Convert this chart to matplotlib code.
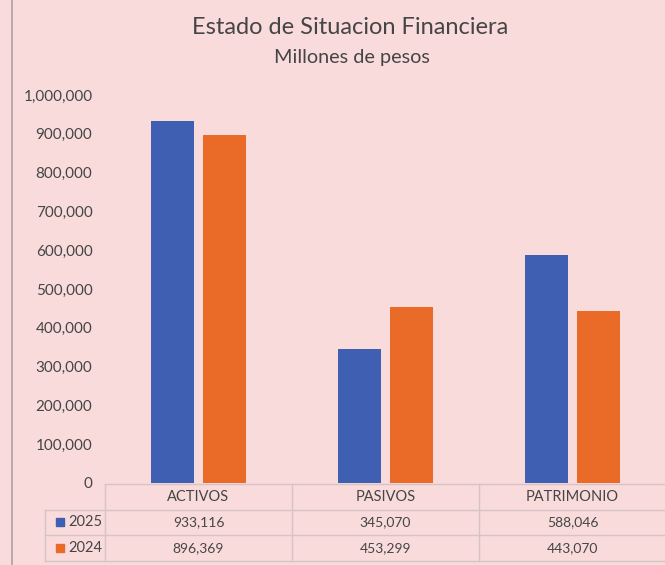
import matplotlib.pyplot as plt
import matplotlib.transforms as mtransforms
from matplotlib.ticker import FuncFormatter
import numpy as np

categories = ["ACTIVOS", "PASIVOS", "PATRIMONIO"]
years = ["2025", "2024"]
values_2025 = [933116, 345070, 588046]
values_2024 = [896369, 453299, 443070]

bg = "#f9dbdc"
blue = "#3f60b2"
orange = "#ea6a27"
text_col = "#454545"
line_col = "#d6c4c5"

plt.rcParams['font.family'] = ['Lato', 'DejaVu Sans']

W, H = 665, 565
fig = plt.figure(figsize=(W / 100, H / 100), dpi=100, facecolor=bg)


def fy(py):
    # pixel row (from top) -> figure fraction
    return 1 - py / H


ax = fig.add_axes([105 / W, fy(483), 561 / W, (483 - 95) / H])
ax.set_facecolor(bg)

x = np.arange(len(categories))
bw = 0.225
off = 0.139
ax.bar(x - off, values_2025, bw, color=blue, zorder=2)
ax.bar(x + off, values_2024, bw, color=orange, zorder=2)

ax.set_xlim(-0.5, 2.5)
ax.set_ylim(0, 1000000)
ax.set_yticks(np.arange(0, 1000001, 100000))
ax.yaxis.set_major_formatter(FuncFormatter(lambda v, p: f"{int(v):,}"))
ax.tick_params(axis='y', length=0, pad=9, labelsize=11, labelcolor=text_col)
ax.set_xticks([])
for s in ax.spines.values():
    s.set_visible(False)

# titles
fig.text(350 / W, fy(27), "Estado de Situacion Financiera", ha='center', va='center',
         fontsize=17, color=text_col)
fig.text(352 / W, fy(58), "Millones de pesos", ha='center', va='center',
         fontsize=14.3, color=text_col)

# left border line
fig.add_artist(plt.Line2D([12 / W, 12 / W], [0, 1], color="#b3a4a5", lw=1.3))

# data table under the axis
tr = mtransforms.blended_transform_factory(ax.transData, fig.transFigure)
px = 561 / 3  # pixels per category
left_lbl = -0.5 - 60 / px
right_edge = 2.5 + 2 / px
kw = dict(transform=tr, color=line_col, lw=1, clip_on=False)

rows_y = [484, 510, 535, 561]
ax.plot([-0.5, right_edge], [fy(rows_y[0])] * 2, **kw)
for yy in rows_y[1:]:
    ax.plot([left_lbl, right_edge], [fy(yy)] * 2, **kw)
for xx in [-0.5, 0.5, 1.5, right_edge]:
    ax.plot([xx, xx], [fy(484), fy(561)], **kw)
ax.plot([left_lbl, left_lbl], [fy(510), fy(561)], **kw)

for i, cat in enumerate(categories):
    ax.text(i, fy(497), cat, transform=tr, ha='center', va='center',
            fontsize=10.5, color=text_col)

row_text_y = [522, 548]
for vals, yr, col, ty in zip([values_2025, values_2024], years, [blue, orange], row_text_y):
    for i, v in enumerate(vals):
        ax.text(i, fy(ty), f"{v:,}", transform=tr, ha='center', va='center',
                fontsize=10, color=text_col)
    ax.text(-0.5 - 3 / px, fy(ty), yr, transform=tr, ha='right', va='center',
            fontsize=10.5, color=text_col)
    ax.plot([-0.5 - 45 / px], [fy(ty)], marker='s', ms=6, color=col,
            transform=tr, clip_on=False)

fig.savefig("out.png", dpi=100, facecolor=bg)
